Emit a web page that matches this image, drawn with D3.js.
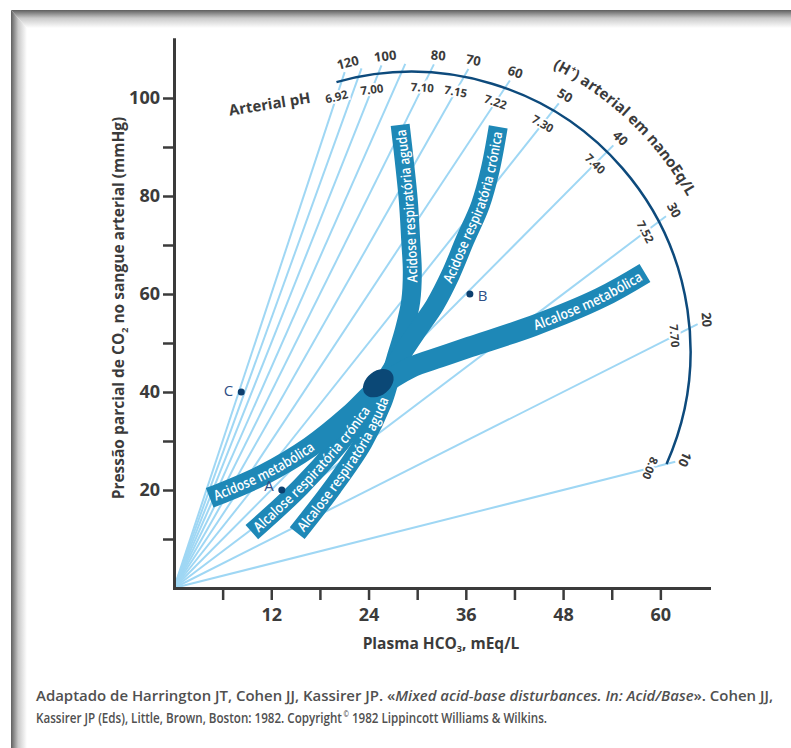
<!DOCTYPE html>
<html>
<head>
<meta charset="utf-8">
<script src="https://cdn.jsdelivr.net/npm/d3@7"></script>
<style>
  body { margin: 0; background: #fff; }
  svg text { font-family: "Open Sans", "Noto Sans", sans-serif; }
</style>
</head>
<body>
<div id="chart-area"></div>
<script>
// isopletas de H+ (nEq/L) e o pH correspondente
var isoH = [120, 110, 100, 90, 80, 70, 60, 50, 40, 30, 20, 10];
var isoHLabels = ["120", "", "100", "", "80", "70", "60", "50", "40", "30", "20", "10"];
var isoPhLabels = ["6.92", "", "7.00", "", "7.10", "7.15", "7.22", "7.30", "7.40", "7.52", "7.70", "8.00"];

// eixos
var xTicks = [6, 12, 18, 24, 30, 36, 42, 48, 54, 60];
var xTickLabels = ["", "12", "", "24", "", "36", "", "48", "", "60"];
var yTicks = [10, 20, 30, 40, 50, 60, 70, 80, 90, 100];
var yTickLabels = ["", "20", "", "40", "", "60", "", "80", "", "100"];

// bandas [HCO3, PCO2], da ponta de baixo para a ponta de cima
var respAguda = [[15.2, 11.2], [19.6, 20.6], [23.3, 29.6], [25.7, 37.8], [26.6, 42.5], [27.4, 47.0],
  [28.4, 52.5], [29.2, 58.5], [29.4, 64.5], [29.2, 71.0], [28.9, 79.2], [28.4, 87.3], [27.9, 94.5]];
var respCronica = [[9.6, 11.4], [15.6, 20.6], [20.5, 29.6], [23.3, 35.7], [25.4, 40.8], [27.6, 46.5],
  [30.1, 52.7], [32.2, 57.8], [34.1, 63.9], [35.9, 71.0], [37.8, 78.2], [39.0, 85.3], [40.0, 94.1]];
var metabolica = [[4.4, 18.4], [11.0, 23.1], [16.8, 28.8], [21.7, 35.3], [25.2, 40.8], [29.1, 44.9],
  [32.8, 47.1], [36.5, 49.2], [44.3, 53.5], [52.6, 59.2], [58.1, 64.3]];
var splitAt = 4; // ponto onde as bandas se cruzam

var lowerNames = ["Alcalose respiratória aguda", "Alcalose respiratória crónica", "Acidose metabólica"];
var upperNames = ["Acidose respiratória aguda", "Acidose respiratória crónica", "Alcalose metabólica"];
var lowerLengths = [157, 165, 111];
var upperLengths = [153, 159, 118];
var bandWidths = [19, 19, 21];

var normalZone = [25.2, 41.8]; // elipse central

// casos A, B, C
var pointNames = ["A", "B", "C"];
var pointHco3 = [13.3, 36.5, 8.3];
var pointPco2 = [20, 60, 40];

var arcCenter = [29.3, 48.4]; // centro do arco das escalas
var arcRadius = 279;

var width = 791, height = 748;

var svg = d3.select("#chart-area").append("svg")
    .attr("width", width)
    .attr("height", height);

var defs = svg.append("defs");

// moldura cinza (topo e esquerda)
var gTop = defs.append("linearGradient").attr("id", "fadeTop")
    .attr("x1", 0).attr("y1", 0).attr("x2", 0).attr("y2", 1);
gTop.append("stop").attr("offset", "0%").attr("stop-color", "#5e5e5e");
gTop.append("stop").attr("offset", "45%").attr("stop-color", "#c9c9c9");
gTop.append("stop").attr("offset", "100%").attr("stop-color", "#ffffff");
var gLeft = defs.append("linearGradient").attr("id", "fadeLeft")
    .attr("x1", 0).attr("y1", 0).attr("x2", 1).attr("y2", 0);
gLeft.append("stop").attr("offset", "0%").attr("stop-color", "#5e5e5e");
gLeft.append("stop").attr("offset", "45%").attr("stop-color", "#c9c9c9");
gLeft.append("stop").attr("offset", "100%").attr("stop-color", "#ffffff");

svg.append("polygon").attr("points", "11,10 791,10 791,28 27,28").attr("fill", "url(#fadeTop)");
svg.append("polygon").attr("points", "11,10 27,28 27,748 11,748").attr("fill", "url(#fadeLeft)");

var x = d3.scaleLinear().domain([0, 66]).range([174, 709]);
var y = d3.scaleLinear().domain([0, 112]).range([588, 39.2]);

var ink = "#3b3b3b";

// isopletas
var O = [x(0), y(0)];
var C = [x(arcCenter[0]), y(arcCenter[1])];

var iso = isoH.map(function(h, i) {
    var dx = x(24) - x(0), dy = y(h) - y(0); // HCO3 = 24 -> PCO2 = H
    var len = Math.sqrt(dx * dx + dy * dy);
    var u = [dx / len, dy / len];
    var oc = [O[0] - C[0], O[1] - C[1]];
    var b = u[0] * oc[0] + u[1] * oc[1];
    var c = oc[0] * oc[0] + oc[1] * oc[1] - arcRadius * arcRadius;
    var t = -b + Math.sqrt(b * b - c);
    var at = function(s) { return [O[0] + s * u[0], O[1] + s * u[1]]; };
    var P = at(t);
    var ang = Math.atan2(P[1] - C[1], P[0] - C[0]);
    return { h: h, hLabel: isoHLabels[i], phLabel: isoPhLabels[i], end: at(t + 9),
             hPos: at(t + 19), phPos: at(t - 17), ang: ang };
});

svg.append("g").selectAll("line")
    .data(iso)
    .enter().append("line")
    .attr("x1", O[0]).attr("y1", O[1])
    .attr("x2", function(d) { return d.end[0]; })
    .attr("y2", function(d) { return d.end[1]; })
    .attr("stroke", "#9fd7f4")
    .attr("stroke-width", 2);

// arco
var a0 = iso[0].ang - 0.02, a1 = iso[iso.length - 1].ang;
var arcPath = d3.path();
arcPath.arc(C[0], C[1], arcRadius, a0, a1);
svg.append("path")
    .attr("d", arcPath.toString())
    .attr("fill", "none")
    .attr("stroke", "#0d4a7c")
    .attr("stroke-width", 2.5);

// rótulos das isopletas
var isoLabels = svg.append("g");
isoLabels.selectAll(".ph")
    .data(iso.filter(function(d) { return d.phLabel; }))
    .enter().append("text")
    .attr("transform", function(d) {
        return "translate(" + d.phPos[0] + "," + d.phPos[1] + ") rotate(" + (d.ang * 180 / Math.PI + 90) + ")";
    })
    .attr("text-anchor", "middle")
    .attr("dy", "0.35em")
    .attr("font-size", "11.5px")
    .attr("font-weight", 700)
    .attr("fill", ink)
    .attr("stroke", "#fff")
    .attr("stroke-width", 4)
    .attr("paint-order", "stroke")
    .text(function(d) { return d.phLabel; });

isoLabels.selectAll(".hl")
    .data(iso.filter(function(d) { return d.hLabel; }))
    .enter().append("text")
    .attr("transform", function(d) {
        return "translate(" + d.hPos[0] + "," + d.hPos[1] + ") rotate(" + (d.ang * 180 / Math.PI + 90) + ")";
    })
    .attr("text-anchor", "middle")
    .attr("dy", "0.35em")
    .attr("font-size", "13px")
    .attr("font-weight", 700)
    .attr("fill", ink)
    .text(function(d) { return d.hLabel; });

// título curvo do H+
var titleR = 316;
var titleArc = d3.path();
titleArc.arc(C[0], C[1], titleR, -75 * Math.PI / 180, 0);
defs.append("path").attr("id", "hTitlePath").attr("d", titleArc.toString());
var hTitle = svg.append("text")
    .attr("font-size", "15px")
    .attr("font-weight", 700)
    .attr("fill", ink)
    .append("textPath")
    .attr("href", "#hTitlePath")
    .attr("startOffset", 11.5 * Math.PI / 180 * titleR);
hTitle.append("tspan").text("(H");
hTitle.append("tspan").attr("font-size", "9px").attr("dy", -6).text("+");
hTitle.append("tspan").attr("dy", 6).text(") arterial em nanoEq/L");

svg.append("text")
    .attr("transform", "translate(" + x(11.9) + "," + y(97.7) + ") rotate(-9)")
    .attr("text-anchor", "middle")
    .attr("font-size", "15px")
    .attr("font-weight", 700)
    .attr("fill", ink)
    .text("Arterial pH");

// bandas
var line = d3.line()
    .x(function(d) { return x(d[0]); })
    .y(function(d) { return y(d[1]); })
    .curve(d3.curveCatmullRom);

var bandColor = "#1e88b7";
var bands = [respAguda, respCronica, metabolica];

svg.append("g").selectAll("path")
    .data(bands)
    .enter().append("path")
    .attr("d", line)
    .attr("fill", "none")
    .attr("stroke", bandColor)
    .attr("stroke-width", function(d, i) { return bandWidths[i]; });

svg.append("ellipse")
    .attr("cx", x(normalZone[0]))
    .attr("cy", y(normalZone[1]))
    .attr("rx", 17)
    .attr("ry", 12)
    .attr("transform", "rotate(-38," + x(normalZone[0]) + "," + y(normalZone[1]) + ")")
    .attr("fill", "#0b4876");

// textos nas bandas
bands.forEach(function(b, i) {
    var low = b.slice(0, splitAt + 1);
    var up = b.slice(splitAt);
    defs.append("path").attr("id", "low" + i).attr("d", line(low));
    var pu = defs.append("path").attr("id", "up" + i).attr("d", line(up));
    var lu = pu.node().getTotalLength();

    svg.append("text")
        .attr("font-size", "14px")
        .attr("font-weight", 600)
        .attr("fill", "#fff")
        .attr("dy", 5)
        .append("textPath")
        .attr("href", "#low" + i)
        .attr("startOffset", 5)
        .attr("textLength", lowerLengths[i])
        .attr("lengthAdjust", "spacingAndGlyphs")
        .text(lowerNames[i]);

    svg.append("text")
        .attr("font-size", "14px")
        .attr("font-weight", 600)
        .attr("fill", "#fff")
        .attr("dy", 5)
        .attr("text-anchor", "end")
        .append("textPath")
        .attr("href", "#up" + i)
        .attr("startOffset", lu - 5)
        .attr("textLength", upperLengths[i])
        .attr("lengthAdjust", "spacingAndGlyphs")
        .text(upperNames[i]);
});

// eixos
var xAxisCall = d3.axisBottom(x)
    .tickValues(xTicks)
    .tickSize(12)
    .tickSizeOuter(0)
    .tickPadding(8)
    .tickFormat(function(d, i) { return xTickLabels[i]; });
var xAxisGroup = svg.append("g")
    .attr("transform", "translate(0," + y(0) + ")")
    .call(xAxisCall);

var yAxisCall = d3.axisLeft(y)
    .tickValues(yTicks)
    .tickSize(11)
    .tickSizeOuter(0)
    .tickPadding(3)
    .tickFormat(function(d, i) { return yTickLabels[i]; });
var yAxisGroup = svg.append("g")
    .attr("transform", "translate(" + x(0) + ",0)")
    .call(yAxisCall);

[xAxisGroup, yAxisGroup].forEach(function(g) {
    g.select(".domain").attr("stroke", ink).attr("stroke-width", 3).attr("stroke-linecap", "square");
    g.selectAll(".tick line").attr("stroke", ink).attr("stroke-width", 2.5);
    g.selectAll(".tick text")
        .attr("fill", ink)
        .attr("font-size", "18px")
        .attr("font-weight", 700)
        .attr("font-family", "\"Open Sans\", sans-serif");
});

// pontos
svg.append("g").selectAll("circle")
    .data(pointNames)
    .enter().append("circle")
    .attr("cx", function(d, i) { return x(pointHco3[i]); })
    .attr("cy", function(d, i) { return y(pointPco2[i]); })
    .attr("r", 3.5)
    .attr("fill", "#0d3f6e");

svg.append("g").selectAll("text")
    .data(pointNames)
    .enter().append("text")
    .attr("x", function(d, i) { return x(pointHco3[i]) + (d === "B" ? 8 : -8); })
    .attr("y", function(d, i) { return y(pointPco2[i]) + (d === "B" ? 7 : (d === "A" ? 1 : 4)); })
    .attr("text-anchor", function(d) { return d === "B" ? "start" : "end"; })
    .attr("font-size", "15px")
    .attr("fill", "#2f4f86")
    .text(function(d) { return d; });

// títulos dos eixos
var yTitle = svg.append("text")
    .attr("transform", "translate(124,308) rotate(-90)")
    .attr("text-anchor", "middle")
    .attr("font-size", "15.5px")
    .attr("font-weight", 700)
    .attr("fill", ink);
yTitle.append("tspan").text("Pressão parcial de CO");
yTitle.append("tspan").attr("font-size", "9px").attr("dy", 4).text("2");
yTitle.append("tspan").attr("dy", -4).text(" no sangue arterial (mmHg)");

var xTitle = svg.append("text")
    .attr("x", 441)
    .attr("y", 649)
    .attr("text-anchor", "middle")
    .attr("font-size", "15.5px")
    .attr("font-weight", 700)
    .attr("fill", ink);
xTitle.append("tspan").text("Plasma HCO");
xTitle.append("tspan").attr("font-size", "9px").attr("dy", 3).text("3");
xTitle.append("tspan").attr("dy", -3).text(", mEq/L");

// fonte
var capStyle = function(t) {
    t.attr("x", 36)
     .attr("font-size", "14.5px")
     .attr("font-weight", 600)
     .attr("fill", "#505050")
     .attr("lengthAdjust", "spacingAndGlyphs");
};
var cap1 = svg.append("text").attr("y", 701).attr("textLength", 737).call(capStyle);
cap1.append("tspan").text("Adaptado de Harrington JT, Cohen JJ, Kassirer JP. «");
cap1.append("tspan").attr("font-style", "italic").text("Mixed acid-base disturbances. In: Acid/Base");
cap1.append("tspan").text("». Cohen JJ,");

var cap2 = svg.append("text").attr("y", 723).attr("textLength", 511).call(capStyle);
cap2.append("tspan").text("Kassirer JP (Eds), Little, Brown, Boston: 1982. Copyright");
cap2.append("tspan").attr("font-size", "8px").attr("dx", 2).attr("dy", -6).text("©");
cap2.append("tspan").attr("dy", 6).text(" 1982 Lippincott Williams & Wilkins.");
</script>
</body>
</html>
